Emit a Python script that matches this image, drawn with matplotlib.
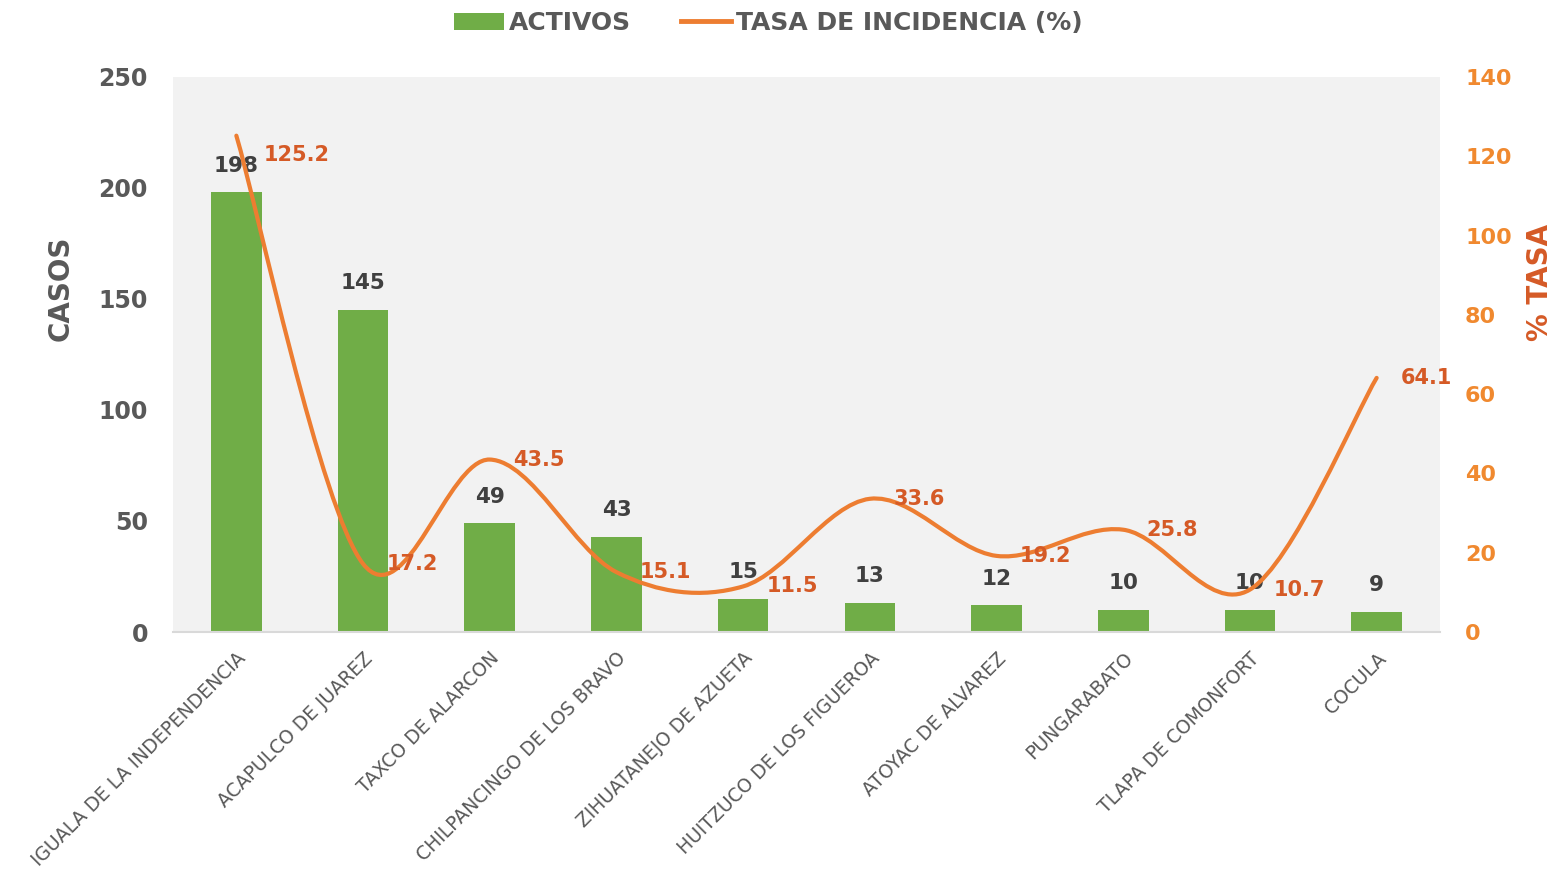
import numpy as np
import matplotlib
matplotlib.use("Agg")
import matplotlib.pyplot as plt
from matplotlib.path import Path
from matplotlib.patches import PathPatch, Patch
from matplotlib.lines import Line2D

municipios = ["IGUALA DE LA INDEPENDENCIA", "ACAPULCO DE JUAREZ", "TAXCO DE ALARCON",
              "CHILPANCINGO DE LOS BRAVO", "ZIHUATANEJO DE AZUETA", "HUITZUCO DE LOS FIGUEROA",
              "ATOYAC DE ALVAREZ", "PUNGARABATO", "TLAPA DE COMONFORT", "COCULA"]
activos = [198, 145, 49, 43, 15, 13, 12, 10, 10, 9]
tasa = [125.2, 17.2, 43.5, 15.1, 11.5, 33.6, 19.2, 25.8, 10.7, 64.1]

GREEN = "#70AD47"
ORANGE = "#ED7D31"
LBL_OR = "#D55A26"
TICK_OR = "#F0892F"
GRAY = "#595959"
DARK = "#404040"

plt.rcParams["font.family"] = ["DejaVu Sans"]

fig = plt.figure(figsize=(15.55, 8.73), dpi=100)
ax = fig.add_axes([173 / 1555, 1 - 632 / 873, (1440 - 173) / 1555, (632 - 77) / 873])
ax2 = ax.twinx()

x = np.arange(len(municipios))
ax.set_facecolor("#F2F2F2")
ax.bar(x, activos, width=0.4, color=GREEN, zorder=2)
ax.set_xlim(-0.5, len(municipios) - 0.5)
ax.set_ylim(0, 250)
ax.set_yticks(range(0, 251, 50))
for xi, v in zip(x, activos):
    ax.annotate(str(v), (xi, v), xytext=(0, 12), textcoords="offset points",
                ha="center", va="bottom", fontsize=15.5, fontweight="bold", color=DARK)

# smoothed line like a spreadsheet "smooth line" (bezier through the points)
pts = np.column_stack([x, tasa]).astype(float)
verts = [pts[0]]
codes = [Path.MOVETO]
for i in range(len(pts) - 1):
    p0 = pts[i - 1] if i > 0 else pts[i]
    p1, p2 = pts[i], pts[i + 1]
    p3 = pts[i + 2] if i + 2 < len(pts) else pts[i + 1]
    c1 = p1 + (p2 - p0) / 6
    c2 = p2 - (p3 - p1) / 6
    verts += [c1, c2, p2]
    codes += [Path.CURVE4] * 3
ax2.add_patch(PathPatch(Path(verts, codes), fill=False, edgecolor=ORANGE, lw=3, zorder=3,
                        capstyle="round"))
ax2.set_ylim(0, 140)
ax2.set_yticks(range(0, 141, 20))
offs = [(20, -14)] + [(17, 0)] * 9
for xi, v, o in zip(x, tasa, offs):
    ax2.annotate(f"{v:.1f}", (xi, v), xytext=o, textcoords="offset points",
                 ha="left", va="center", fontsize=15, fontweight="bold", color=LBL_OR)

ax.set_zorder(ax2.get_zorder() - 1)
ax2.patch.set_visible(False)

for a in (ax, ax2):
    for s in a.spines.values():
        s.set_visible(False)
    a.tick_params(length=0)
ax.spines["bottom"].set_visible(True)
ax.spines["bottom"].set_color("#D9D9D9")
ax.spines["bottom"].set_linewidth(1.5)

ax.set_xticks(x)
ax.set_xticklabels(municipios, rotation=45, ha="right", rotation_mode="anchor",
                   fontsize=13.5, color=GRAY)
ax.tick_params(axis="x", pad=12)
ax.tick_params(axis="y", labelsize=17, labelcolor=GRAY, pad=18)
for t in ax.get_yticklabels():
    t.set_fontweight("bold")
ax2.tick_params(axis="y", labelsize=16, labelcolor=TICK_OR, pad=18)
for t in ax2.get_yticklabels():
    t.set_fontweight("bold")

ax.set_ylabel("CASOS", fontsize=20, fontweight="bold", color=GRAY)
ax.yaxis.set_label_coords(-0.078, 0.62)
ax2.set_ylabel("% TASA", fontsize=20, fontweight="bold", color=LBL_OR)
ax2.yaxis.set_label_coords(1.068, 0.63)

handles = [Patch(facecolor=GREEN), Line2D([0], [0], color=ORANGE, lw=3.5)]
leg = fig.legend(handles, ["ACTIVOS", "TASA DE INCIDENCIA (%)"], loc="center",
                 bbox_to_anchor=(0.494, 1 - 23 / 873), ncol=2, frameon=False,
                 fontsize=18, handlelength=2.0, handletextpad=0.2, columnspacing=2.0)
for t in leg.get_texts():
    t.set_color(GRAY)
    t.set_fontweight("bold")

fig.savefig("out.png", dpi=100)
